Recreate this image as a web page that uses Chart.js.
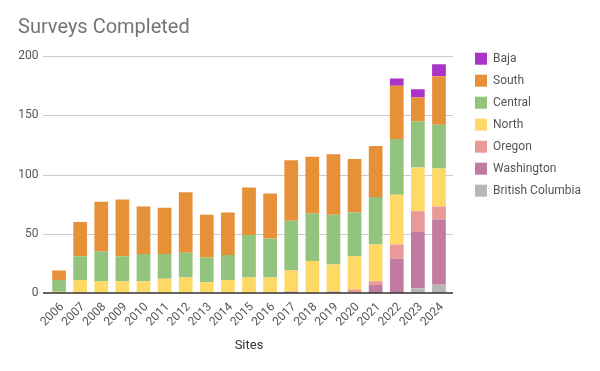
<!DOCTYPE html>
<html>
<head>
<meta charset="utf-8">
<script src="https://cdn.jsdelivr.net/npm/chart.js@4"></script>
<style>
  html, body { margin: 0; padding: 0; background: #ffffff; }
  #wrap { width: 600px; height: 371px; position: relative; }
</style>
</head>
<body>
<div id="wrap"><canvas id="c" width="600" height="371"></canvas></div>
<script>
const years = ["2006","2007","2008","2009","2010","2011","2012","2013","2014","2015","2016","2017","2018","2019","2020","2021","2022","2023","2024"];
const britishColumbia = [0,0,0,0,0,0,0,0,0,0,0,0,0,0,0,0,0,4,7];
const washington      = [0,0,0,0,0,0,0,0,0,0,0,1,0,1,0,7,29,48,55];
const oregon          = [0,0,0,0,0,0,0,0,0,0,0,0,0,0,3,3,12,17,11];
const north           = [1,11,10,10,10,12,13,9,11,13,13,18,27,23,28,31,42,37,32];
const central         = [10,20,25,21,23,21,21,21,21,36,33,42,40,42,37,40,47,39,37];
const south           = [8,29,42,48,40,39,51,36,36,40,38,51,48,51,45,43,45,20,41];
const baja            = [0,0,0,0,0,0,0,0,0,0,0,0,0,0,0,0,6,7,10];
const yTicks = [0,50,100,150,200];

const FONT = "Roboto, 'Noto Sans', sans-serif";

const gridPlugin = {
  id: 'customGrid',
  beforeDatasetsDraw(chart) {
    const y = chart.scales.y, a = chart.chartArea, ctx = chart.ctx;
    ctx.save();
    ctx.strokeStyle = '#cccccc';
    ctx.lineWidth = 1;
    yTicks.forEach(v => {
      if (v === 0) return;
      const py = Math.round(y.getPixelForValue(v)) + 0.5;
      ctx.beginPath(); ctx.moveTo(a.left - 5.5, py); ctx.lineTo(a.right + 3.5, py); ctx.stroke();
    });
    ctx.restore();
  },
  afterDatasetsDraw(chart) {
    const y = chart.scales.y, a = chart.chartArea, ctx = chart.ctx;
    ctx.save();
    ctx.strokeStyle = '#333333';
    ctx.lineWidth = 1.6;
    const py = y.getPixelForValue(0);
    ctx.beginPath(); ctx.moveTo(a.left - 5.5, py); ctx.lineTo(a.right + 3.5, py); ctx.stroke();
    ctx.restore();
  }
};

const mk = (label, data, color) => ({ label, data, backgroundColor: color, borderWidth: 0, categoryPercentage: 1, barPercentage: 0.65 });

new Chart(document.getElementById('c'), {
  type: 'bar',
  data: {
    labels: years,
    datasets: [
      mk('British Columbia', britishColumbia, '#b7b7b7'),
      mk('Washington', washington, '#c27ba0'),
      mk('Oregon', oregon, '#ea9999'),
      mk('North', north, '#ffd966'),
      mk('Central', central, '#93c47d'),
      mk('South', south, '#e69138'),
      mk('Baja', baja, '#a934c7')
    ]
  },
  plugins: [gridPlugin],
  options: {
    responsive: false,
    animation: false,
    devicePixelRatio: 1,
    layout: { padding: { left: 18, right: 9, top: 0, bottom: 0 } },
    plugins: {
      title: {
        display: true, text: 'Surveys Completed', align: 'start', color: '#757575',
        font: { family: FONT, size: 20, weight: 'normal' },
        padding: { top: 16, bottom: 16 }
      },
      legend: {
        display: true, position: 'right', align: 'start', reverse: true, maxWidth: 220,
        title: { display: true, text: ' ', font: { size: 1 }, padding: { top: 41.5, bottom: 0 } },
        labels: { boxWidth: 12, boxHeight: 12, padding: 10, color: '#555555', font: { family: FONT, size: 12 } }
      },
      tooltip: { enabled: false }
    },
    scales: {
      x: {
        stacked: true,
        grid: { display: false, drawTicks: false },
        border: { display: false },
        ticks: { autoSkip: false, maxRotation: 45, minRotation: 45, padding: 7, labelOffset: 3, color: '#555555', font: { family: FONT, size: 12 } },
        title: { display: true, text: 'Sites', color: '#333333', font: { family: FONT, size: 13 }, padding: { top: 0, bottom: 17 } },
        afterFit: s => { s.height = 78; }
      },
      y: {
        stacked: true, min: 0, max: 200,
        grid: { display: false, drawTicks: false },
        border: { display: false },
        ticks: { stepSize: 50, padding: 10, color: '#555555', font: { family: FONT, size: 12 } },
        afterFit: s => { s.width = 30.5; }
      },
      yR: {
        position: 'right', display: true,
        grid: { display: false, drawTicks: false },
        border: { display: false },
        ticks: { display: false },
        afterFit: s => { s.width = 15.5; }
      }
    }
  }
});
</script>
</body>
</html>
